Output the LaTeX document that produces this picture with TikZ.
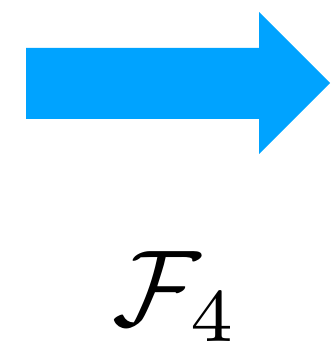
\documentclass[tikz,border=0pt]{standalone}
\definecolor{arrowblue}{RGB}{0,163,255}
\tikzset{bigarrow/.style={fill=arrowblue,draw=none}}
\begin{document}
\begin{tikzpicture}[x=1pt,y=-1pt]
\useasboundingbox (0,0) rectangle (334,347);
\fill[bigarrow] (26,48) -- (259,48) -- (259,12) -- (330,83) -- (259,154) -- (259,119) -- (26,119) -- cycle;
\node[anchor=base,inner sep=0pt,scale=10.8] (label) at (176,325) {$\mathcal{F}_4$};
\end{tikzpicture}
\end{document}
